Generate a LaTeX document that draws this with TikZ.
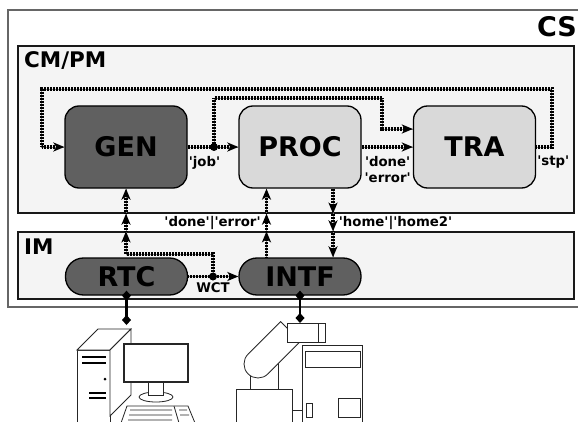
\documentclass[tikz,border=0pt]{standalone}
\usepackage{fontspec}
\setmainfont{DejaVu Sans}
\usetikzlibrary{arrows.meta}
\definecolor{dark}{HTML}{606060}
\definecolor{light}{HTML}{D9D9D9}
\definecolor{panelgray}{HTML}{F4F4F4}
\newcommand{\quoted}[1]{\textquotesingle#1\textquotesingle}

\begin{document}
\begin{tikzpicture}[x=1pt,y=1pt,
	>={Stealth[length=11pt,width=9pt,inset=3pt]},
	block/.style={draw=black,line width=1.3pt,rounded corners=14pt,minimum width=122pt,minimum height=82pt,font=\fontsize{27}{30}\selectfont\bfseries},
	unit/.style={block,fill=dark,rounded corners=18pt,minimum height=37pt},
	panel/.style={draw=black!90,line width=1.3pt,fill=panelgray,minimum width=556pt},
	title/.style={inner sep=0pt,font=\fontsize{21.5}{24}\selectfont\bfseries},
	lbl/.style={inner sep=1pt,font=\fontsize{13.3}{16}\selectfont\bfseries},
	sig/.style={line width=3.8pt,draw=black,dash pattern=on 0.7pt off 0.8pt,preaction={draw=black!45,solid,arrows=-}},
	link/.style={line width=2.8pt,arrows={Diamond[length=10pt,width=9pt]-Diamond[length=10pt,width=9pt]},shorten <=-5pt,shorten >=-5pt},
	icon/.style={draw=black!85,line width=0.8pt,fill=white}]
	\useasboundingbox (0,0) rectangle (578,421);

	% frames
	\draw[draw=black!60,line width=1.5pt,fill=white] (8,114) rectangle (590,411);
	\node[title,font=\fontsize{27}{30}\selectfont\bfseries,anchor=base east] (cs) at (577,384) {CS};
	\node[panel,minimum height=167pt] (cm) at (296,291.5) {};
	\node[title,anchor=base west] (cmlbl) at (24,353) {CM/PM};
	\node[panel,minimum height=67pt] (im) at (296,155.5) {};
	\node[title,anchor=base west] (imlbl) at (24,167) {IM};

	% modules
	\node[block,fill=dark] (gen) at (126,274) {GEN};
	\node[block,fill=light] (proc) at (300,274) {PROC};
	\node[block,fill=light] (tra) at (474.5,274) {TRA};
	\node[unit] (rtc) at (126.5,144.5) {RTC};
	\node[unit] (intf) at (300,144.5) {INTF};

	\coordinate (job) at (214,274);
	\coordinate (wct) at (213,144.5);
	\coordinate (fork) at (126,167);
	\coordinate (pu) at ([xshift=-33.5pt]proc.south);
	\coordinate (pd) at ([xshift=33pt]proc.south);

	% signals inside CM/PM
	\draw[sig,->] (gen) -- (proc);
	\draw[sig,->] (proc) -- (tra);
	\draw[sig,->] (job) |- ++(168,49) |- ([yshift=18pt]tra.west);
	\draw[sig,->] (tra.east) -- ++(15.5,0) |- ++(-510,58) |- (gen.west);
	\fill (job) circle (4pt);
	\node[lbl,anchor=north west] (joblbl) at ([yshift=-8pt]gen.east) {\quoted{job}};
	\node[lbl,anchor=north,align=center] (donelbl) at ([xshift=26pt,yshift=-8pt]proc.east) {\quoted{done}\\\quoted{error}};
	\node[lbl,anchor=north west] (stplbl) at ([yshift=-8pt]tra.east) {\quoted{stp}};

	% signals inside IM
	\draw[sig,->] (rtc) -- (intf);
	\draw[sig] (wct) |- (fork);
	\fill (wct) circle (4pt);
	\node[lbl,anchor=north] (wctlbl) at ([yshift=-5pt]wct) {WCT};

	% signals between IM and CM/PM
	\draw[sig,->] (fork) -- (im.north -| fork);
	\draw[sig,->] (im.north -| fork) -- (cm.south -| fork);
	\draw[sig,->] (cm.south -| fork) -- (gen.south -| fork);
	\draw[sig,->] (intf.north -| pu) -- (im.north -| pu);
	\draw[sig,->] (im.north -| pu) -- (cm.south -| pu) node[lbl,midway,left=3pt] {\quoted{done}|\quoted{error}};
	\draw[sig,->] (cm.south -| pu) -- (pu);
	\draw[sig,->] (pd) -- (cm.south -| pd);
	\draw[sig,->] (cm.south -| pd) -- (im.north -| pd) node[lbl,midway,right=3pt] {\quoted{home}|\quoted{home2}};
	\draw[sig,->] (im.north -| pd) -- (intf.north -| pd);

	% computer
	\draw[icon] (77,-2) rectangle (110,71);
	\draw[icon] (77,71) -- (98,92) -- (131,92) -- (110,71) -- cycle;
	\draw[icon] (110,71) -- (131,92) -- (131,26) -- (110,5) -- cycle;
	\draw[line width=2.5pt] (82,64) -- (106,64) (82,58) -- (106,58) (89,28) -- (106,28) (89,23) -- (106,23);
	\fill (105,42) circle (1.5pt);
	\draw[icon] (156,24) ellipse (17 and 5);
	\draw[icon] (148,26) rectangle (163,39);
	\draw[icon,line width=2pt] (124,39) rectangle (188,77);
	\draw[icon] (127,15) -- (188,15) -- (195,-2) -- (121,-2) -- cycle;
	\draw[icon] (130,11) -- (172,11) (129,6) -- (172,6) (128,1) -- (172,1) (174,15) -- (179,-2) (179,11) -- (187,11) (180,6) -- (189,6);
	\coordinate (pc) at (126.5,101);

	% robot
	\draw[icon] (236.7,-2) rectangle (292.3,32);
	\draw[icon] (250,32) rectangle (278,58);
	\begin{scope}[shift={(258,57)},rotate=45]
		\draw[icon] (0,-14) -- (46,-14) -- (46,14) -- (0,14) arc (90:270:14);
	\end{scope}
	\draw[icon] (287,79) rectangle (325,98);
	\draw[icon] (318,79) -- (318,98);
	\draw[icon] (292.3,11) -- (302,11);
	\draw[icon] (302,-2) rectangle (362,76);
	\draw[icon] (305,54) rectangle (360,70);
	\draw[icon] (306.5,4) rectangle (312.6,18);
	\draw[icon] (338,4) rectangle (360,23);
	\coordinate (bot) at (300,103);

	% hardware links
	\draw[link] (rtc.south) -- (pc);
	\draw[link] (intf.south) -- (bot);
\end{tikzpicture}
\end{document}
